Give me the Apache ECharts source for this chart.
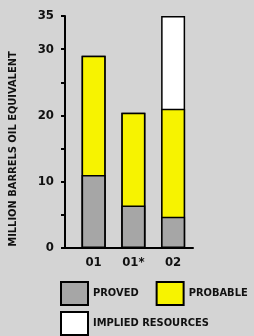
<!DOCTYPE html>
<html>
<head>
<meta charset="utf-8">
<script src="https://cdn.jsdelivr.net/npm/echarts@6/dist/echarts.min.js"></script>
<style>
html, body { margin: 0; padding: 0; background: #d4d4d4; }
#chart { width: 254px; height: 336px; }
</style>
</head>
<body>
<div id="chart"></div>
<script>
var categories = ['01', '01*', '02'];
var proved = [11, 6.4, 4.7];
var probable = [18, 14, 16.3];
var implied = [0, 0, 14];
var yLabels = [0, 10, 20, 30, 35];

var font = '"Liberation Sans Narrow", "Arial Narrow", "DejaVu Sans Condensed", sans-serif';

// bars are overlapped (not stacked), so each layer is the running total
var layerProved = [], layerProbable = [], layerImplied = [];
for (var i = 0; i < categories.length; i++) {
    layerProved.push([i, proved[i]]);
    layerProbable.push([i, proved[i] + probable[i]]);
    layerImplied.push([i, proved[i] + probable[i] + implied[i]]);
}

var chart = echarts.init(document.getElementById('chart'));
var barStyle = function (color) {
    return { color: color, borderColor: '#000', borderWidth: 1.5 };
};
var legendText = { color: '#111', fontFamily: font, fontWeight: 'bold', fontSize: 11 };
var option = {
    backgroundColor: '#d4d4d4',
    animation: false,
    grid: { left: 62, right: 61, top: 16, bottom: 88 },
    xAxis: {
        type: 'value',
        min: -0.72,
        max: 2.5,
        splitLine: { show: false },
        axisLine: { show: true, onZero: false, lineStyle: { color: '#000', width: 2 } },
        axisTick: { show: false },
        axisLabel: {
            customValues: [0, 1, 2],
            formatter: function (v) { return categories[Math.round(v)]; },
            color: '#111', fontFamily: font, fontWeight: 'bold', fontSize: 13, margin: 8
        }
    },
    yAxis: {
        type: 'value',
        min: 0,
        max: 35,
        interval: 5,
        name: 'MILLION BARRELS OIL EQUIVALENT',
        nameLocation: 'middle',
        nameRotate: 90,
        nameGap: 46,
        nameTextStyle: {
            color: '#111', fontFamily: font, fontWeight: 'bold', fontSize: 11,
            padding: [0, 34, 0, 0]
        },
        splitLine: { show: false },
        axisLine: { show: true, onZero: false, lineStyle: { color: '#000', width: 2 } },
        axisTick: { show: true, length: 4, lineStyle: { color: '#000', width: 2 } },
        axisLabel: {
            formatter: function (v) { return yLabels.indexOf(v) >= 0 ? v : ''; },
            color: '#111', fontFamily: font, fontWeight: 'bold', fontSize: 13, margin: 11
        }
    },
    legend: [{
        data: ['PROVED', 'PROBABLE'],
        left: 55, top: 276, width: 199,
        itemWidth: 27, itemHeight: 23, itemGap: 17,
        icon: 'rect',
        textStyle: legendText
    }, {
        data: ['IMPLIED RESOURCES'],
        left: 55, top: 306,
        itemWidth: 27, itemHeight: 23,
        icon: 'rect',
        textStyle: legendText
    }],
    series: [{
        name: 'IMPLIED RESOURCES',
        type: 'bar',
        barWidth: 24,
        barGap: '-100%',
        itemStyle: barStyle('#ffffff'),
        data: layerImplied
    }, {
        name: 'PROBABLE',
        type: 'bar',
        barWidth: 24,
        barGap: '-100%',
        itemStyle: barStyle('#f7f300'),
        data: layerProbable
    }, {
        name: 'PROVED',
        type: 'bar',
        barWidth: 24,
        barGap: '-100%',
        itemStyle: barStyle('#a6a6a6'),
        data: layerProved
    }]
};
chart.setOption(option);
</script>
</body>
</html>
